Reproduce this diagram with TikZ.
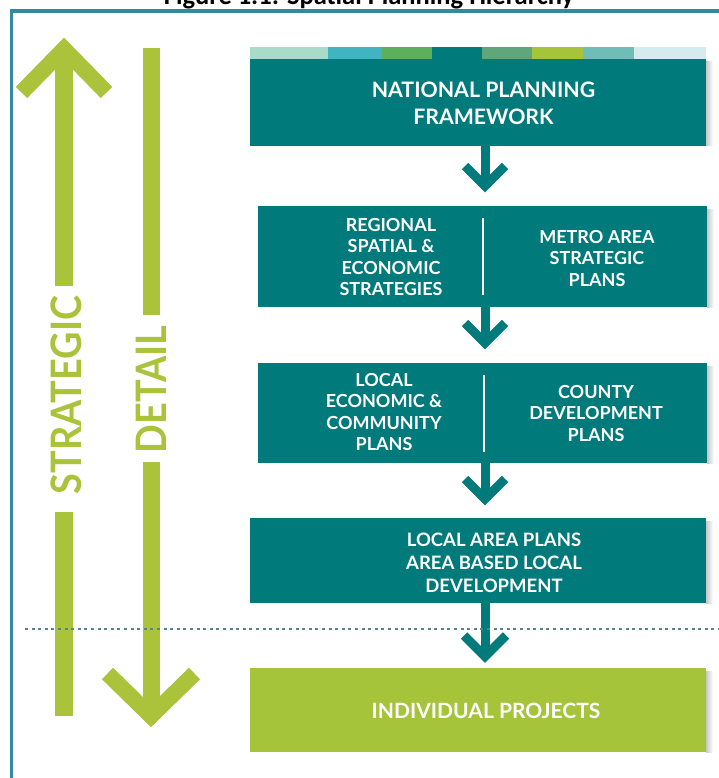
\documentclass[tikz,border=0pt]{standalone}
\usepackage{fontspec}
\setmainfont{Lato}
\newfontfamily\titlefont{Carlito}
\newfontfamily\condfont[FakeStretch=0.9]{Lato}
\usetikzlibrary{calc}
\definecolor{tealbox}{HTML}{007A7A}
\definecolor{limebox}{HTML}{A6C43A}
\definecolor{limearr}{HTML}{ABC33B}
\definecolor{framec}{HTML}{3489A0}
\definecolor{dotc}{HTML}{5E7F8E}
\definecolor{sa}{HTML}{A8DCC8}
\definecolor{sb}{HTML}{40B4C0}
\definecolor{sc}{HTML}{5CB05C}
\definecolor{sd}{HTML}{007A7A}
\definecolor{se}{HTML}{5FA67A}
\definecolor{sf}{HTML}{A6C43A}
\definecolor{sg}{HTML}{70BCB8}
\definecolor{sh}{HTML}{D4ECF0}
\begin{document}
\begin{tikzpicture}[x=1pt,y=-1pt,
  boxnode/.style={fill=tealbox, draw=none, inner sep=0pt, outer sep=0pt},
  boxtext/.style={text=white, align=center, inner sep=0pt,
    font=\bfseries\fontsize{18}{21.5}\selectfont},
  bigtext/.style={text=white, align=center, inner sep=0pt,
    font=\bfseries\fontsize{21.3}{27}\selectfont},
  conn/.style={draw=tealbox, line width=9pt},
  chev/.style={draw=tealbox, line width=9pt, miter limit=10},
  limestem/.style={draw=limearr, line width=18pt},
  limechev/.style={draw=limearr, line width=16pt, miter limit=10},
  divider/.style={draw=white, line width=2.5pt},
  shadowstrip/.style={left color=black!22, right color=white, draw=none},
  sidetext/.style={text=limearr, inner sep=0pt, rotate=90,
    font=\condfont\bfseries\fontsize{42}{42}\selectfont}
]
\useasboundingbox (0,0) rectangle (718,778);

% title (cut by the page edge, as in the reference)
\node[anchor=base, inner sep=0pt, font=\titlefont\bfseries\fontsize{26.5}{26.5}\selectfont] (title) at (369,5) {Figure 1.1: Spatial Planning Hierarchy};

% frame
\draw[framec, line width=3.2pt] (11.7,790) -- (11.7,11) -- (730,11);

% colour strip
\fill[sa] (250,47) rectangle (328,59);
\fill[sb] (328,47) rectangle (382,59);
\fill[sc] (382,47) rectangle (432,59);
\fill[sd] (432,47) rectangle (482,59);
\fill[se] (482,47) rectangle (532,59);
\fill[sf] (532,47) rectangle (583,59);
\fill[sg] (583,47) rectangle (634,59);
\fill[sh] (634,47) rectangle (706,59);

% shadows
\shade[shadowstrip] (706,62) rectangle (713,146);
\shade[shadowstrip] (707,209) rectangle (714,307);
\shade[shadowstrip] (707,366) rectangle (714,463);
\shade[shadowstrip] (706,521) rectangle (713,603);
\shade[shadowstrip] (706,671) rectangle (713,752);

% boxes
\node[boxnode, minimum width=456pt, minimum height=87pt] (b1) at (478,102.5) {};
\node[bigtext] (t1) at (483.5,103.5) {NATIONAL PLANNING\\FRAMEWORK};

\node[boxnode, minimum width=449pt, minimum height=101pt] (b2) at (482.5,256.5) {};
\node[boxtext] (t2a) at (391,257) {REGIONAL\\SPATIAL \&\\ECONOMIC\\STRATEGIES};
\node[boxtext] (t2b) at (597,258) {METRO AREA\\STRATEGIC\\PLANS};
\coordinate (d2top) at (483,218);
\coordinate (d2bot) at (483,295);
\draw[divider] (d2top) -- (d2bot);

\node[boxnode, minimum width=449pt, minimum height=100pt] (b3) at (482.5,413) {};
\node[boxtext] (t3a) at (384,412) {LOCAL\\ECONOMIC \&\\COMMUNITY\\PLANS};
\node[boxtext] (t3b) at (596,413) {COUNTY\\DEVELOPMENT\\PLANS};
\coordinate (d3top) at (484,375);
\coordinate (d3bot) at (484,452);
\draw[divider] (d3top) -- (d3bot);

\node[boxnode, minimum width=456pt, minimum height=85pt] (b4) at (478,560.5) {};
\node[boxtext, font=\bfseries\fontsize{18.5}{23}\selectfont] (t4) at (494,563) {LOCAL AREA PLANS\\AREA BASED LOCAL\\DEVELOPMENT};

\node[boxnode, fill=limebox, minimum width=456pt, minimum height=84pt] (b5) at (478,710) {};
\node[bigtext, font=\bfseries\fontsize{21}{21}\selectfont] (t5) at (486,711) {INDIVIDUAL PROJECTS};

% connectors
\coordinate (k1) at (485,186);
\coordinate (k2) at (485,343);
\coordinate (k3) at (485,499);
\coordinate (k4) at (485,656.5);
\draw[conn] (b1.south -| k1) -- (k1);
\draw[chev] ($(k1)+(-20,-20)$) -- (k1) -- ($(k1)+(20,-20)$);
\draw[conn] (b2.south -| k2) -- (k2);
\draw[chev] ($(k2)+(-20,-20)$) -- (k2) -- ($(k2)+(20,-20)$);
\draw[conn] (b3.south -| k3) -- (k3);
\draw[chev] ($(k3)+(-20,-20)$) -- (k3) -- ($(k3)+(20,-20)$);
\draw[conn] (b4.south -| k4) -- (k4);
\draw[chev] ($(k4)+(-21,-21)$) -- (k4) -- ($(k4)+(21,-21)$);

% side arrows
\node[sidetext] (strat) at (66,395) {STRATEGIC};
\coordinate (sv) at (64,49);
\coordinate (sg1) at (64,286);
\coordinate (sg2) at (64,512);
\coordinate (send) at (64,716);
\draw[limestem] (sv) -- (sg1);
\draw[limestem] (sg2) -- (send);
\draw[limechev] (21.5,92.5) -- (sv) -- (106.5,92.5);

\node[sidetext] (det) at (151,389.5) {DETAIL};
\coordinate (dtop) at (151,48);
\coordinate (dg1) at (151,315);
\coordinate (dg2) at (151,462);
\coordinate (dv) at (151,716);
\draw[limestem, line width=17pt] (dtop) -- (dg1);
\draw[limestem, line width=17pt] (dg2) -- (dv);
\draw[limechev] (107.5,673.5) -- (dv) -- (194.5,673.5);

% dotted separator
\coordinate (dl) at (25,629);
\coordinate (dr) at (720,629);
\draw[dotc, line width=2.6pt, dash pattern=on 3pt off 3.6pt] (dl) -- (dr);
\end{tikzpicture}
\end{document}
